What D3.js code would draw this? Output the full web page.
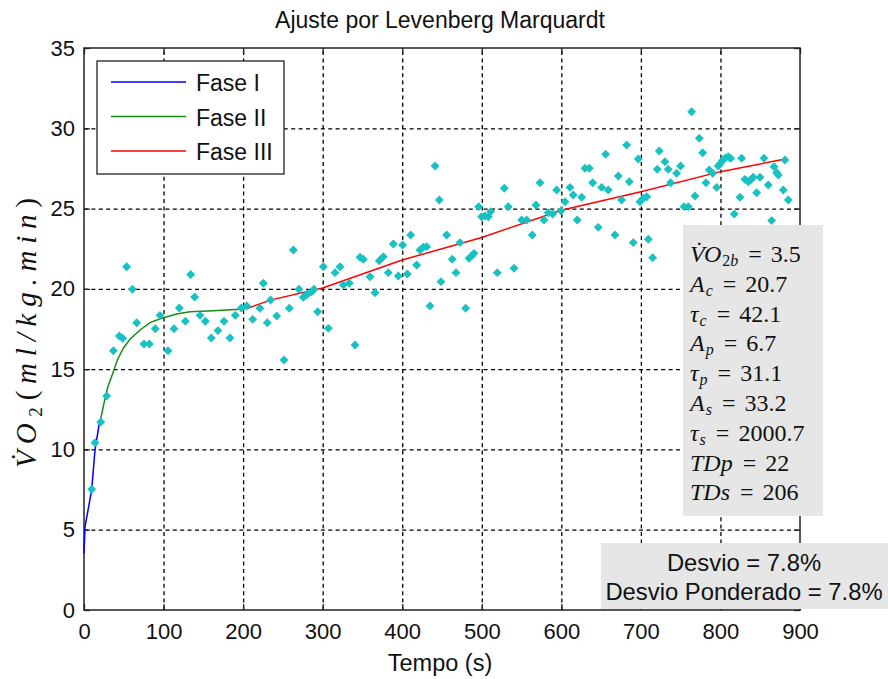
<!DOCTYPE html>
<html>
<head>
<meta charset="utf-8">
<script src="https://cdn.jsdelivr.net/npm/d3@7"></script>
<style>
  body { margin: 0; background: #fff; }
  text { fill: #111; }
</style>
</head>
<body>
<svg id="chart" width="888" height="679"></svg>
<script>
// ~~~~~ data ~~~~~
var xTicks = [0, 100, 200, 300, 400, 500, 600, 700, 800, 900];
var yTicks = [0, 5, 10, 15, 20, 25, 30, 35];

// measured VO2 samples (tempo in s, VO2 in ml/kg.min)
var sampleT = [9.7,13.8,21,28.5,36.9,44.4,48.6,53.6,60.8,66.2,75.4,82.1,89.6,95.5,105.6,113.1,119.8,127.4,134.1,139.1,
  145.8,152.5,160,168.4,176,183.5,190.2,197.7,204.5,212,221.2,225.4,230.4,234.6,242.2,251.4,258.1,263.1,270.2,275.6,
  279,282.4,286.2,289.1,293.7,300.8,307.1,315.5,321.8,326,333.5,340.6,346.9,351.1,359.5,365.8,371.2,376.2,382.5,388.8,
  395.1,400.5,406.4,410.6,418.2,422.3,426.5,430.7,434.9,441.2,446.6,448.7,455.9,462.9,467.6,472.6,479.7,483.9,487.3,490.2,
  496.1,499.8,504,508.2,511.2,519.5,528.3,533.3,540.5,550.1,556.4,563.5,568.1,573.2,578.2,583.6,589.1,594.1,599.5,604.6,
  610.9,615,620,625.6,629.7,635.1,639.4,646.4,650.7,655.7,659,667.4,671.6,675.8,682.1,685.4,690.4,696.7,698.8,703,
  707.3,709.3,714.8,720.6,723.1,730.2,734.4,737.4,744.9,749.9,754.2,759.6,763.8,768,773.4,777.6,781.8,786,790.2,795.2,
  797.3,799.4,802.3,805.7,809.8,812.8,817.4,824.5,826.6,830.8,834.9,837.9,841.2,845.5,849.7,854.7,860.1,864.4,867.3,870.7,
  872.7,879,881.1,885.3];
var sampleV = [7.52,10.42,11.71,13.33,16.15,17.06,16.92,21.38,19.97,17.89,16.57,16.57,17.52,18.35,16.15,17.52,18.81,17.98,20.9,19.49,
  18.35,17.98,16.94,17.4,17.98,16.94,18.35,18.81,18.93,18.1,18.79,20.35,17.89,19.31,18.31,15.57,18.79,22.42,19.97,19.47,
  19.62,19.72,19.82,19.97,18.58,21.38,17.54,21.01,21.38,20.24,20.35,16.5,21.97,21.84,20.76,19.76,21.75,22.0,21.01,22.79,
  20.8,22.73,20.92,23.35,21.48,22.42,22.59,22.63,18.93,27.65,25.53,20.45,23.35,21.84,21.01,22.88,18.79,21.9,22.05,22.21,
  25.12,24.49,24.54,24.49,24.81,21.01,26.26,25.12,21.28,24.29,24.29,23.35,25.22,26.61,24.29,24.74,24.66,26.16,24.87,25.43,
  26.32,25.85,24.29,25.7,27.51,27.51,26.61,23.83,26.32,28.38,26.16,23.35,27.03,25.53,28.96,26.67,22.88,28.09,25.43,25.64,
  25.74,23.09,21.94,27.45,28.59,27.92,27.45,26.61,27.2,27.65,25.12,25.12,31.03,25.78,29.38,28.48,26.61,27.4,27.2,26.32,
  27.65,27.78,27.98,28.13,28.23,28.13,24.66,25.7,28.13,26.82,26.67,26.78,26.95,25.99,26.95,28.13,26.47,24.25,27.61,27.23,
  27.09,26.16,28.02,25.53];

// fitted curve, one array pair per phase
var fase1T = [0, 1.3, 5, 9.7, 13.8, 18.9, 20.5];
var fase1V = [3.53, 5.19, 6.2, 7.5, 9.96, 11.52, 11.8];
var fase2T = [20.5, 25.1, 30, 36.9, 41.9, 49.4, 57.8, 70.4, 83, 97.6, 116.5, 133.2, 162.5, 196, 206.5];
var fase2V = [11.8, 12.87, 13.9, 14.84, 15.57, 16.3, 16.86, 17.44, 17.9, 18.17, 18.43, 18.58, 18.64, 18.73, 18.8];
var fase3T = [206.5, 234, 300, 400, 500, 600, 700, 800, 883];
var fase3V = [18.8, 19.3, 20.05, 21.8, 23.2, 24.9, 26.05, 27.3, 28.1];

var legendLabels = ["Fase I", "Fase II", "Fase III"];
var legendColors = ["#0000ff", "#178c17", "#ff0000"];

// fitted parameters
var paramName = ["V\u0307O", "A", "\u03c4", "A", "\u03c4", "A", "\u03c4", "TDp", "TDs"];
var paramSub = ["2b", "c", "c", "p", "p", "s", "s", "", ""];
var paramValue = ["3.5", "20.7", "42.1", "6.7", "31.1", "33.2", "2000.7", "22", "206"];

var desvioLines = ["Desvio = 7.8%", "Desvio Ponderado = 7.8%"];

// ~~~~~ setup ~~~~~
var svg = d3.select("#chart");
var sans = "'Liberation Sans', Arial, sans-serif";
var serif = "'Liberation Serif', 'Times New Roman', serif";

var x = d3.scaleLinear().domain([0, 900]).range([84, 800]);
var y = d3.scaleLinear().domain([0, 35]).range([610, 48]);

// grid
svg.append("g")
  .attr("transform", "translate(0,610)")
  .call(d3.axisBottom(x).tickValues(xTicks.slice(1, -1)).tickSize(-(610 - 48)).tickFormat(""))
  .call(g => g.select(".domain").remove())
  .selectAll("line").attr("stroke", "#000").attr("stroke-width", 1.3).attr("stroke-dasharray", "4,3.4");
svg.append("g")
  .attr("transform", "translate(84,0)")
  .call(d3.axisLeft(y).tickValues(yTicks.slice(1, -1)).tickSize(-(800 - 84)).tickFormat(""))
  .call(g => g.select(".domain").remove())
  .selectAll("line").attr("stroke", "#000").attr("stroke-width", 1.3).attr("stroke-dasharray", "4,3.4");

// axes (ticks inward, matlab style)
svg.append("g")
  .attr("transform", "translate(0,610)")
  .call(d3.axisBottom(x).tickValues(xTicks).tickSize(-6).tickPadding(13));
svg.append("g")
  .attr("transform", "translate(0,48)")
  .call(d3.axisTop(x).tickValues(xTicks).tickSize(-6).tickFormat(""));
svg.append("g")
  .attr("transform", "translate(84,0)")
  .call(d3.axisLeft(y).tickValues(yTicks).tickSize(-6).tickPadding(9));
svg.append("g")
  .attr("transform", "translate(800,0)")
  .call(d3.axisRight(y).tickValues(yTicks).tickSize(-6).tickFormat(""));
svg.selectAll(".domain").remove();
svg.selectAll(".tick line").filter(function() { return !this.getAttribute("stroke-dasharray"); })
  .attr("stroke", "#222").attr("stroke-width", 1.3);
svg.selectAll(".tick text").attr("font-family", sans).attr("font-size", 22).attr("fill", "#111");

svg.append("rect")
  .attr("x", 84).attr("y", 48).attr("width", 800 - 84).attr("height", 610 - 48)
  .attr("fill", "none").attr("stroke", "#222").attr("stroke-width", 1.5);

// ~~~~~ curves and samples ~~~~~
var line = d3.line().x(d => x(d[0])).y(d => y(d[1]));
var fases = [d3.zip(fase1T, fase1V), d3.zip(fase2T, fase2V), d3.zip(fase3T, fase3V)];
fases.forEach((pts, i) => {
  svg.append("path").datum(pts)
    .attr("d", line)
    .attr("fill", "none")
    .attr("stroke", legendColors[i])
    .attr("stroke-width", 1.5);
});

var diamond = d3.symbol().type(d3.symbolSquare).size(40);
svg.append("g").selectAll("path")
  .data(d3.zip(sampleT, sampleV))
  .enter().append("path")
  .attr("d", diamond)
  .attr("transform", d => "translate(" + x(d[0]) + "," + y(d[1]) + ") rotate(45)")
  .attr("fill", "#19c2c2");

// ~~~~~ legend ~~~~~
var legend = svg.append("g");
legend.append("rect")
  .attr("x", 97).attr("y", 61).attr("width", 187).attr("height", 113)
  .attr("fill", "#fff").attr("stroke", "#222").attr("stroke-width", 1.3);
legendLabels.forEach((lab, i) => {
  var ly = 82 + i * 34.5;
  legend.append("line")
    .attr("x1", 111).attr("x2", 186).attr("y1", ly).attr("y2", ly)
    .attr("stroke", legendColors[i]).attr("stroke-width", 1.5);
  legend.append("text")
    .attr("x", 196).attr("y", ly + 9)
    .attr("font-family", sans).attr("font-size", 23)
    .text(lab);
});

// ~~~~~ parameter box ~~~~~
svg.append("rect")
  .attr("x", 683).attr("y", 225).attr("width", 140).attr("height", 291)
  .attr("fill", "#e6e6e6");
paramName.forEach((nm, i) => {
  var t = svg.append("text")
    .attr("x", 690).attr("y", 262 + i * 29.8)
    .attr("font-family", serif).attr("font-size", 24)
    .attr("fill", "#222");
  t.append("tspan").attr("font-style", "italic").text(nm);
  if (paramSub[i]) {
    if (i === 0) {
      t.append("tspan").attr("font-size", 16).attr("dx", 1).attr("dy", 4).text("2");
      t.append("tspan").attr("font-size", 16).attr("font-style", "italic").text("b");
    } else {
      t.append("tspan").attr("font-size", 16).attr("font-style", "italic").attr("dx", 1).attr("dy", 4).text(paramSub[i]);
    }
    t.append("tspan").attr("dy", -4).attr("dx", 10).text("=");
  } else {
    t.append("tspan").attr("dx", 10).text("=");
  }
  t.append("tspan").attr("dx", 9).text(paramValue[i]);
});

// ~~~~~ desvio box ~~~~~
svg.append("rect")
  .attr("x", 601).attr("y", 543).attr("width", 287).attr("height", 66)
  .attr("fill", "#e6e6e6");
desvioLines.forEach((s, i) => {
  svg.append("text")
    .attr("x", 744).attr("y", 571 + i * 29)
    .attr("text-anchor", "middle")
    .attr("font-family", sans).attr("font-size", 23.8)
    .text(s);
});

// ~~~~~ titles ~~~~~
svg.append("text")
  .attr("x", 440).attr("y", 28)
  .attr("text-anchor", "middle")
  .attr("font-family", sans).attr("font-size", 23)
  .text("Ajuste por Levenberg Marquardt");

svg.append("text")
  .attr("x", 440).attr("y", 671)
  .attr("text-anchor", "middle")
  .attr("font-family", sans).attr("font-size", 23.5)
  .text("Tempo (s)");

var yl = svg.append("text")
  .attr("transform", "translate(36,333) rotate(-90)")
  .attr("text-anchor", "middle")
  .attr("textLength", 270).attr("lengthAdjust", "spacing")
  .attr("font-family", serif).attr("font-size", 29);
yl.append("tspan").attr("font-style", "italic").text("V\u0307O");
yl.append("tspan").attr("font-size", 19).attr("dy", 6).text("2");
yl.append("tspan").attr("dy", -6).text("(");
yl.append("tspan").attr("font-style", "italic").text("ml/kg.min");
yl.append("tspan").text(")");
</script>
</body>
</html>
